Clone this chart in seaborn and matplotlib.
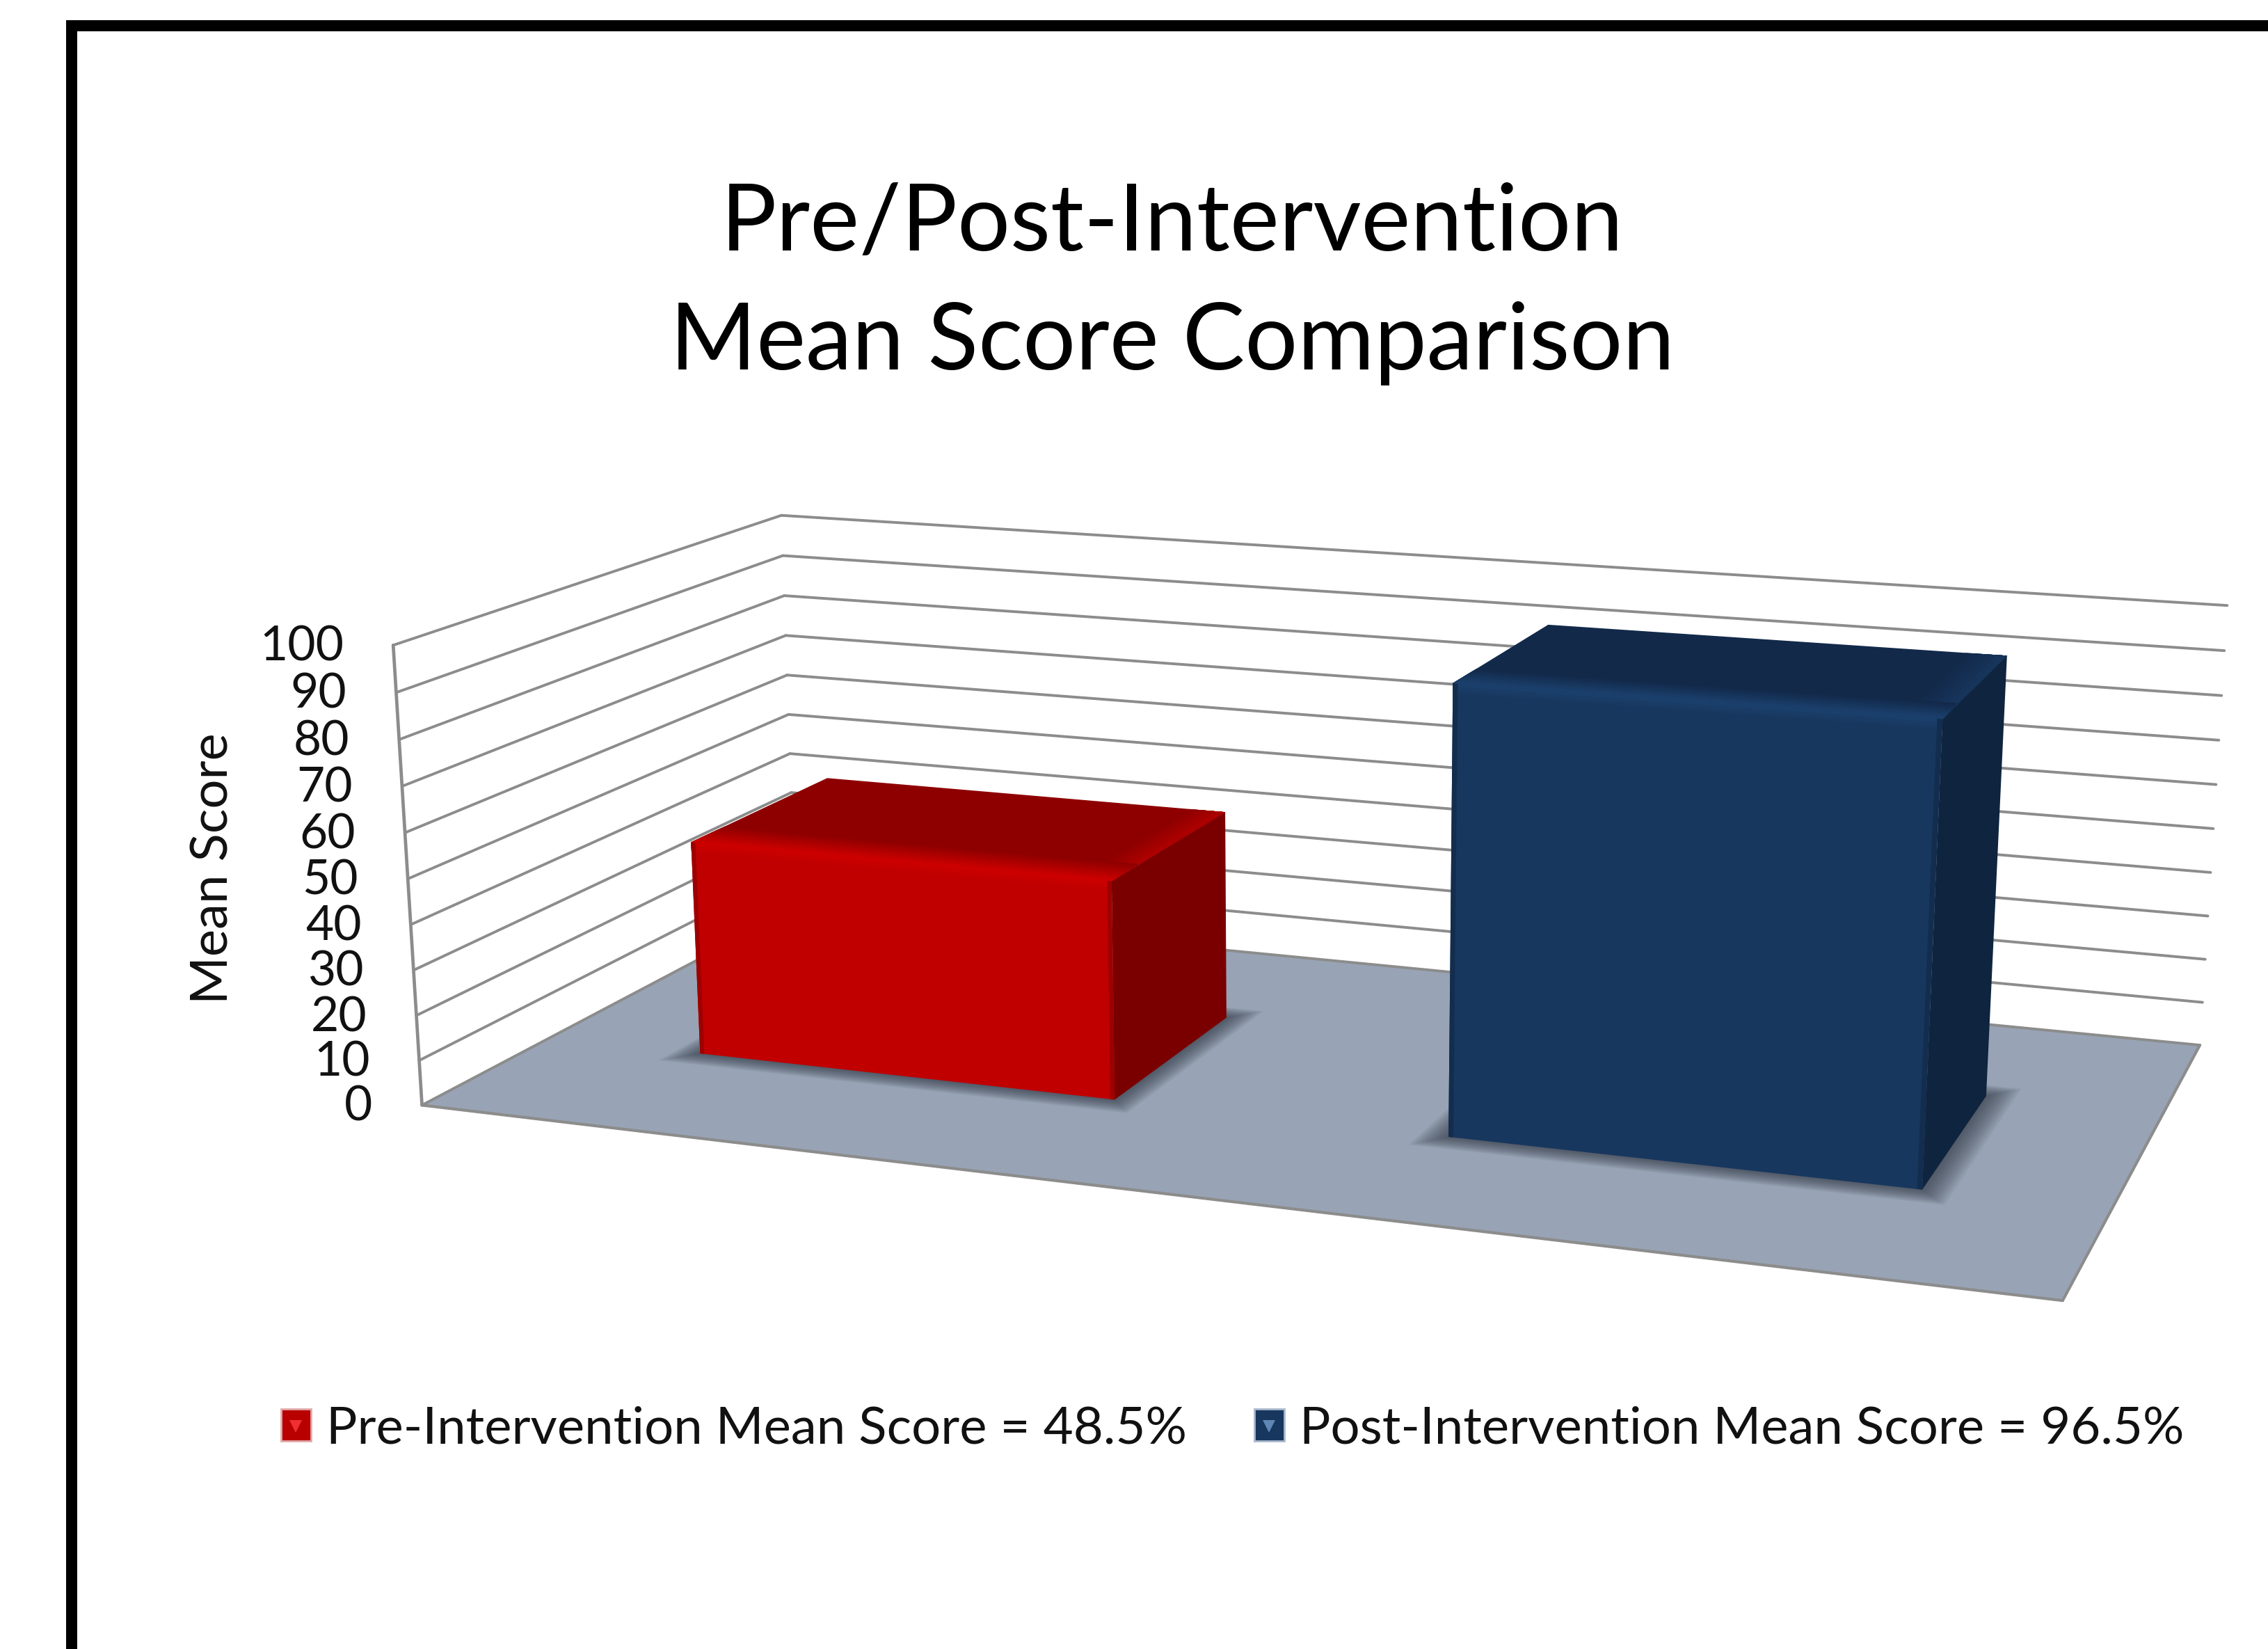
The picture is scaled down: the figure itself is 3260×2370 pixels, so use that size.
import numpy as np
import pandas as pd
import seaborn as sns
import matplotlib.pyplot as plt
from matplotlib.legend_handler import HandlerTuple
from matplotlib.lines import Line2D
from matplotlib.patches import Patch, Rectangle
from matplotlib.transforms import Affine2D, Transform

# Chart values
categories = ["Pre-Intervention", "Post-Intervention"]
mean_scores = [48.5, 96.5]
y_ticks = [0, 10, 20, 30, 40, 50, 60, 70, 80, 90, 100]
legend_labels = ["Pre-Intervention Mean Score = 48.5%", "Post-Intervention Mean Score = 96.5%"]
title_text = "Pre/Post-Intervention\nMean Score Comparison"
y_label = "Mean Score"

# Colors: front, top, side, highlight
red_shades = ["#C00000", "#8E0000", "#7A0000", "#CC0000"]
blue_shades = ["#17375E", "#12294A", "#0F243E", "#1B406C"]
floor_color = "#98A4B5"
line_color = "#8C8C8C"

W, H = 3260, 2370
BAR_WIDTH = 0.57
DEPTH_FRONT, DEPTH_BACK = 0.31, 0.69
U_LEFT, U_RIGHT = -0.5, 1.5

# Camera calibration: box position (category, depth, value) -> reference pixel
camera_box = np.array([
    [U_LEFT, 0, 0], [U_LEFT, 0, 100], [U_LEFT, 1, 0], [U_LEFT, 1, 100],
    [U_RIGHT, 1, 100], [U_RIGHT, 1, 0], [U_RIGHT, 0, 0],
    [-0.285, 0.31, 0], [-0.285, 0.31, 48.5], [0.285, 0.31, 0], [0.285, 0.31, 48.5],
    [0.715, 0.31, 0], [0.715, 0.31, 96.5], [1.285, 0.31, 0], [1.285, 0.31, 96.5],
    [0.285, 0.69, 48.5], [1.285, 0.69, 96.5],
], dtype=float)
camera_px = np.array([
    [605, 1585], [566, 923], [1145, 1308], [1123, 738],
    [3203, 865], [3161, 1500], [2969, 1865],
    [1005, 1513], [996, 1215], [1601, 1578], [1595, 1268],
    [2083, 1637], [2090, 987], [2762, 1712], [2790, 1035],
    [1761, 1169], [2883, 945],
], dtype=float)


def fit_camera(box, px):
    # plain DLT, scaled so the numbers stay comparable
    b = np.c_[box[:, 0], box[:, 1], box[:, 2] / 100, np.ones(len(box))]
    p = px / 1000
    rows = []
    for bi, (x, y) in zip(b, p):
        rows.append(np.r_[bi, np.zeros(4), -x * bi])
        rows.append(np.r_[np.zeros(4), bi, -y * bi])
    m = np.linalg.svd(np.array(rows))[2][-1].reshape(3, 4)
    return np.diag([1000, 1000, 1.0]) @ m @ np.diag([1, 1, 0.01, 1])


CAMERA = fit_camera(camera_box, camera_px)


class PlaneTransform(Transform):
    input_dims = 2
    output_dims = 2

    def __init__(self, hom):
        super().__init__()
        self.hom = hom

    def transform_non_affine(self, values):
        pts = np.c_[np.asarray(values), np.ones(len(values))] @ self.hom.T
        return pts[:, :2] / pts[:, 2:]


sns.set_theme(style="white")
plt.rcParams["font.family"] = ["Lato", "DejaVu Sans"]

fig = plt.figure(figsize=(W / 100, H / 100), dpi=100, facecolor="white")
# the thick black frame is just the top and left spines of the axes
ax = fig.add_axes([103 / W, 0, 1 - 103 / W, 1 - 37 / H])
to_fig = Affine2D().scale(1 / W, -1 / H).translate(0, 1) + fig.transFigure


def plane(u=None, d=None, v=None):
    # 2D transform for one plane of the box; the free axes are the inputs, in order
    fixed = {0: u, 1: d, 2: v}
    cols = []
    last = np.array([0, 0, 0, 1.0])
    for axis, val in fixed.items():
        e = np.zeros(4)
        e[axis] = 1
        if val is None:
            cols.append(e)
        else:
            last = last + val * e
    cols.append(last)
    return PlaneTransform(CAMERA @ np.array(cols).T) + to_fig


def face(x, y, w, h, tf, color, z):
    ax.add_patch(Rectangle((x, y), w, h, transform=tf, facecolor=color, edgecolor="none", lw=0, zorder=z))


# Floor, walls, gridlines
face(U_LEFT, 0, U_RIGHT - U_LEFT, 1, plane(v=0), floor_color, 1)
for tick in y_ticks:
    ax.plot([U_LEFT, U_RIGHT], [tick, tick], transform=plane(d=1), color=line_color, lw=2.8, zorder=2)
    ax.plot([0, 1], [tick, tick], transform=plane(u=U_LEFT), color=line_color, lw=2.8, zorder=2)
    ax.annotate(str(tick), xy=(0, tick), xycoords=plane(u=U_LEFT), xytext=(-71, -3), textcoords="offset pixels",
                ha="right", va="center", fontsize=50, color="#111111", zorder=9)
ax.plot([0, 0], [0, 100], transform=plane(u=U_LEFT), color=line_color, lw=3.4, zorder=2)
ax.plot([U_LEFT, U_RIGHT], [0, 0], transform=plane(d=0), color=line_color, lw=3, zorder=2)
ax.plot([0, 1], [0, 0], transform=plane(u=U_RIGHT), color=line_color, lw=3, zorder=2)

# Front faces of the bars come from seaborn, then get projected onto the front plane
df = pd.DataFrame({"Category": categories, "Mean Score": mean_scores})
sns.barplot(data=df, x="Category", y="Mean Score", hue="Category", palette=[red_shades[0], blue_shades[0]],
            width=BAR_WIDTH, saturation=1, legend=False, ax=ax, zorder=6, linewidth=0, edgecolor="none")
bars = list(ax.patches[-len(categories):])
front_tf = plane(d=DEPTH_FRONT)
depth = DEPTH_BACK - DEPTH_FRONT
floor_tf = plane(v=0)

for bar, shades in zip(bars, [red_shades, blue_shades]):
    bar.set_transform(front_tf)
    x0, bw, val = bar.get_x(), bar.get_width(), bar.get_height()
    x1 = x0 + bw
    front, top, side, shine = shades
    top_tf = plane(v=val)

    # soft shadow on the floor
    for k in np.linspace(1, 0, 14):
        ax.add_patch(Rectangle((x0 - 0.035 * k, DEPTH_FRONT - 0.045 * k), bw + 0.07 * k, depth + 0.09 * k,
                               transform=floor_tf, facecolor="#2F3742", alpha=0.07, lw=0, zorder=3))

    face(DEPTH_FRONT, 0, depth, val, plane(u=x1), side, 4)
    face(x0, DEPTH_FRONT, bw, depth, top_tf, top, 4)

    # bevels, painted from the outside in so no seams show
    band = 0.09
    for i, c in enumerate(sns.blend_palette([top, shine], 12)):
        t = 1 - i / 12
        face(x0, DEPTH_FRONT, bw, band * t, top_tf, c, 5)
    edge_light = sns.blend_palette([top, shine], 3)[1]
    for i, c in enumerate(sns.blend_palette([top, edge_light], 8)):
        t = 1 - i / 8
        face(x1 - 0.05 * t, DEPTH_FRONT + band, 0.05 * t, depth - band, top_tf, c, 5)
    for i, c in enumerate(sns.blend_palette([front, shine], 8)):
        t = 1 - i / 8
        face(x0, val - 2.5 * t, bw, 2.5 * t, front_tf, c, 7)
    edge_dark = sns.blend_palette([front, side], 3)[1]
    face(x0, 0, 0.006, val, front_tf, edge_dark, 8)
    face(x1 - 0.006, 0, 0.006, val, front_tf, edge_dark, 8)

# Text
ax.text(1685, 408, title_text, transform=to_fig, ha="center", va="center", fontsize=96.5, linespacing=1.51, color="black")
ax.text(307, 1248, y_label, transform=to_fig, ha="center", va="center", rotation=90, fontsize=53.5, color="#111111")

# legend swatch: a square with a small lighter triangle on top
handles = [
    (Patch(facecolor="#B80000", edgecolor="#E3A9A9", lw=2),
     Line2D([], [], marker="v", color="#F03030", ms=13, ls="none", mew=0)),
    (Patch(facecolor="#17375E", edgecolor="#A9B8CC", lw=2),
     Line2D([], [], marker="v", color="#5F86B5", ms=13, ls="none", mew=0)),
]
fig.legend(handles=handles, labels=legend_labels, ncol=2, loc="center", bbox_to_anchor=(0.5434, 0.1333), frameon=False,
           fontsize=53.5, handlelength=0.58, handleheight=0.58, handletextpad=0.3, columnspacing=1.3, borderpad=0,
           labelcolor="#111111", handler_map={tuple: HandlerTuple(ndivide=1, pad=0)})

ax.set(xticks=[], yticks=[], xlabel="", ylabel="")
sns.despine(ax=ax, right=True, bottom=True, top=False, left=False)
for name in ["top", "left"]:
    ax.spines[name].set_linewidth(11.5)
    ax.spines[name].set_color("black")

fig.savefig("out.png", dpi=100, facecolor="white")
